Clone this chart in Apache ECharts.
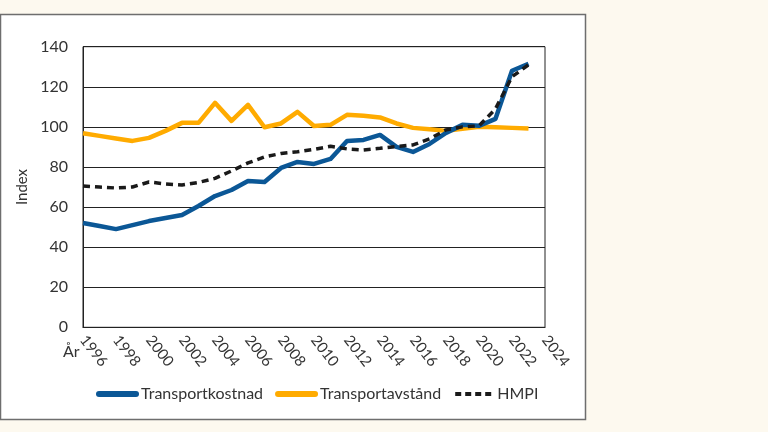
<!DOCTYPE html>
<html>
<head>
<meta charset="utf-8">
<script src="https://cdn.jsdelivr.net/npm/echarts@6/dist/echarts.min.js"></script>
<style>
html,body{margin:0;padding:0;background:#fdf9ef;}
#chart{width:768px;height:432px;}
</style>
</head>
<body>
<div id="chart"></div>
<script>
const years = [1996,1997,1998,1999,2000,2001,2002,2003,2004,2005,2006,2007,2008,2009,2010,2011,2012,2013,2014,2015,2016,2017,2018,2019,2020,2021,2022,2023];
const transportkostnad = [52,50.5,49,51,53,54.5,56,60.5,65.5,68.5,73,72.5,79.5,82.5,81.5,84,93,93.5,96,90,87.5,91.5,97,101,100.5,104,128,131.5];
const transportavstand = [96.8,95.5,94.2,93,94.5,98,102,102,112,103,111,99.8,101.7,107.5,100.4,101,106,105.5,104.7,101.7,99.5,98.8,98,99,100,99.8,99.5,99.2];
const hmpi = [70.5,70,69.5,70,72.5,71.5,71,72.3,74.3,78,82,85,86.7,87.6,88.8,90.3,89,88.5,89.3,90.2,91,94,98.5,100,100.5,109,125,131];
const yTicks = [0,20,40,60,80,100,120,140];
const seriesNames = ['Transportkostnad','Transportavstånd','HMPI'];

const pairs = arr => years.map((y,i)=>[y,arr[i]]);
const FONT = 'Lato';
const chart = echarts.init(document.getElementById('chart'));
chart.setOption({
  backgroundColor:'#fdf9ef',
  animation:false,
  textStyle:{fontFamily:FONT},
  graphic:[
    {type:'rect',z:-10,shape:{x:0.5,y:14.5,width:585,height:405},style:{fill:'#ffffff',stroke:'#6e6e6e',lineWidth:1.5}},
    {type:'text',left:63,top:344,style:{text:'År',font:'16px '+FONT,fill:'#333'}}
  ],
  grid:{left:83,right:223,top:46.7,bottom:104.7,show:true,borderColor:'#222',borderWidth:1,backgroundColor:'transparent'},
  legend:{
    data:[
      {name:seriesNames[0],lineStyle:{width:6,cap:'round'}},
      {name:seriesNames[1],lineStyle:{width:6,cap:'round'}},
      {name:seriesNames[2],lineStyle:{width:4,type:[6,4]}}
    ],
    left:91,top:381,itemWidth:37,itemHeight:10,itemGap:12,
    itemStyle:{opacity:0},
    textStyle:{fontFamily:FONT,fontSize:16,color:'#333'}
  },
  xAxis:{
    type:'value',min:1996,max:2024,interval:2,
    axisLine:{show:true,lineStyle:{color:'#222',width:1}},
    axisTick:{show:false},
    splitLine:{show:false},
    axisLabel:{rotate:-52,margin:10,fontSize:15,color:'#333',fontFamily:FONT,formatter:v=>String(v)}
  },
  yAxis:{
    type:'value',min:yTicks[0],max:yTicks[yTicks.length-1],interval:20,
    name:'Index',nameLocation:'middle',nameGap:50,nameTextStyle:{fontSize:15,color:'#333',fontFamily:FONT},
    axisLine:{show:true,lineStyle:{color:'#222',width:1}},
    axisTick:{show:false},
    splitLine:{show:true,lineStyle:{color:'#222',width:1}},
    axisLabel:{margin:15,fontSize:16,color:'#333',fontFamily:FONT}
  },
  series:[
    {name:seriesNames[1],type:'line',data:pairs(transportavstand),showSymbol:false,symbol:'none',
     lineStyle:{color:'#ffab00',width:4.5,join:'round'},itemStyle:{color:'#ffab00'},z:2},
    {name:seriesNames[0],type:'line',data:pairs(transportkostnad),showSymbol:false,symbol:'none',
     lineStyle:{color:'#0b5796',width:4.5,join:'round'},itemStyle:{color:'#0b5796'},z:3},
    {name:seriesNames[2],type:'line',data:pairs(hmpi),showSymbol:false,symbol:'none',
     lineStyle:{color:'#1a1a1a',width:3.5,type:[7,5]},itemStyle:{color:'#1a1a1a'},z:4}
  ]
});
</script>
</body>
</html>
